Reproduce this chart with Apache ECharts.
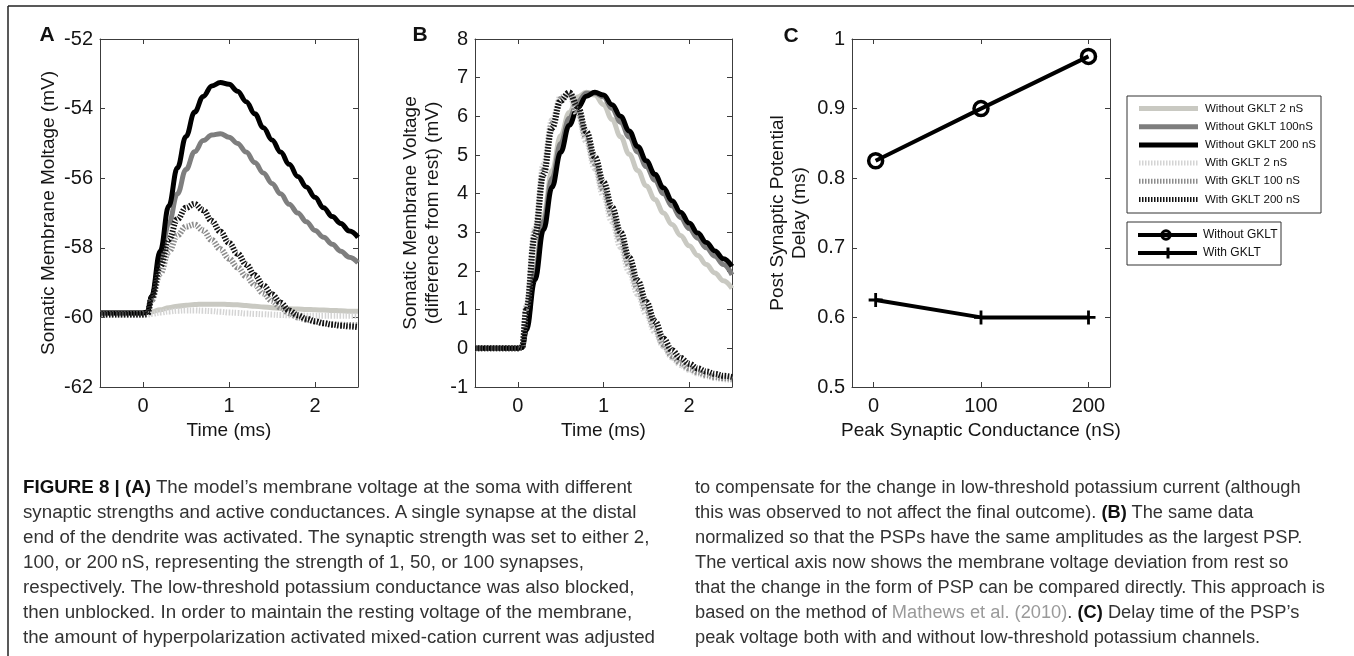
<!DOCTYPE html>
<html><head><meta charset="utf-8">
<script src="https://cdn.jsdelivr.net/npm/echarts@6/dist/echarts.min.js"></script>
<style>
html,body{margin:0;padding:0;background:#fff;}
#wrap{position:relative;width:1354px;height:656px;overflow:hidden;background:#fff;}
#chart{position:absolute;left:0;top:0;width:1354px;height:656px;}
.cap{position:absolute;white-space:nowrap;font-family:"Liberation Sans",Arial,sans-serif;font-size:18px;color:#333;line-height:25px;height:25px;transform-origin:0 50%;}
.cap b{color:#111;}
.cap .ref{color:#9a9a9a;}
</style></head>
<body><div id="wrap"><div id="chart"></div></div>
<script>
// ---------- data ----------
const T = [-0.5,0,0.05,0.1,0.2,0.3,0.4,0.5,0.6,0.7,0.8,0.9,1.0,1.1,1.2,1.3,1.4,1.5,1.6,1.7,1.8,1.9,2.0,2.1,2.2,2.3,2.4,2.5];
const seriesNames = ['Without GKLT 2 nS','Without GKLT 100nS','Without GKLT 200 nS','With GKLT 2 nS','With GKLT 100 nS','With GKLT 200 nS'];
// Panel A: somatic membrane voltage (mV)
const A_woGKLT_2   = [-59.87,-59.87,-59.86,-59.84,-59.78,-59.72,-59.68,-59.65,-59.63,-59.62,-59.62,-59.62,-59.63,-59.64,-59.66,-59.68,-59.70,-59.72,-59.74,-59.75,-59.76,-59.77,-59.78,-59.79,-59.80,-59.81,-59.82,-59.82];
const A_woGKLT_100 = [-59.87,-59.87,-59.85,-59.44,-58.35,-57.3,-56.45,-55.75,-55.24,-54.92,-54.76,-54.72,-54.82,-55.0,-55.25,-55.55,-55.85,-56.15,-56.45,-56.75,-57.0,-57.25,-57.5,-57.7,-57.9,-58.1,-58.27,-58.43];
const A_woGKLT_200 = [-59.87,-59.87,-59.85,-59.4,-58.1,-56.8,-55.7,-54.8,-54.1,-53.65,-53.35,-53.25,-53.3,-53.5,-53.8,-54.15,-54.55,-54.9,-55.25,-55.6,-55.95,-56.25,-56.55,-56.85,-57.1,-57.3,-57.52,-57.7];
const A_wGKLT_2    = [-59.92,-59.92,-59.92,-59.9,-59.86,-59.83,-59.81,-59.8,-59.8,-59.81,-59.82,-59.84,-59.86,-59.87,-59.89,-59.9,-59.91,-59.92,-59.93,-59.94,-59.94,-59.95,-59.95,-59.95,-59.95,-59.95,-59.95,-59.95];
const A_wGKLT_100  = [-59.92,-59.92,-59.91,-59.51,-58.74,-58.11,-57.64,-57.39,-57.33,-57.5,-57.78,-58.04,-58.31,-58.56,-58.82,-59.07,-59.31,-59.53,-59.72,-59.88,-60.0,-60.07,-60.12,-60.16,-60.19,-60.21,-60.22,-60.23];
const A_wGKLT_200  = [-59.92,-59.92,-59.91,-59.44,-58.53,-57.76,-57.18,-56.85,-56.74,-56.92,-57.23,-57.54,-57.86,-58.17,-58.48,-58.79,-59.08,-59.34,-59.58,-59.8,-59.94,-60.04,-60.11,-60.17,-60.21,-60.24,-60.26,-60.28];
// Panel B: normalized deviation from rest (mV)
const B_woGKLT_2   = [0,0,0.02,0.6,2.05,3.45,4.6,5.5,6.1,6.5,6.62,6.55,6.3,5.92,5.47,5.02,4.6,4.2,3.85,3.5,3.2,2.92,2.65,2.4,2.17,1.95,1.75,1.55];
const B_woGKLT_100 = [0,0,0.02,0.55,1.95,3.3,4.4,5.3,5.95,6.38,6.6,6.6,6.5,6.2,5.85,5.47,5.08,4.7,4.35,4.0,3.68,3.38,3.1,2.85,2.6,2.38,2.17,1.9];
const B_woGKLT_200 = [0,0,0.02,0.47,1.77,3.07,4.17,5.07,5.77,6.22,6.52,6.62,6.55,6.3,6.0,5.62,5.22,4.85,4.5,4.15,3.82,3.52,3.24,2.98,2.74,2.52,2.32,2.12];
const B_wGKLT_2    = [0,0,0.03,1.1,3.1,4.75,5.9,6.5,6.55,6.05,5.35,4.65,3.95,3.28,2.62,1.98,1.4,0.88,0.42,0.05,-0.24,-0.43,-0.56,-0.65,-0.72,-0.77,-0.8,-0.82];
const B_wGKLT_100  = [0,0,0.03,1.05,3.0,4.6,5.8,6.45,6.6,6.15,5.45,4.78,4.1,3.45,2.8,2.15,1.55,1.0,0.52,0.1,-0.2,-0.38,-0.52,-0.62,-0.69,-0.74,-0.77,-0.79];
const B_wGKLT_200  = [0,0,0.02,1.0,2.9,4.5,5.7,6.4,6.62,6.25,5.6,4.95,4.3,3.65,3.0,2.35,1.75,1.2,0.7,0.25,-0.05,-0.25,-0.4,-0.52,-0.6,-0.66,-0.71,-0.74];
// Panel C: PSP delay (ms)
const C_conductance = [2, 100, 200];
const C_without = [0.825, 0.9, 0.975];
const C_with    = [0.625, 0.6, 0.6];
const C_names = ['Without GKLT','With GKLT'];
// tick labels
const timeTicks = [0, 1, 2];
const condTicks = [0, 100, 200];

const captionLeft = [
 '<b>FIGURE 8 | (A)</b> The model\u2019s membrane voltage at the soma with different',
 'synaptic strengths and active conductances. A single synapse at the distal',
 'end of the dendrite was activated. The synaptic strength was set to either 2,',
 '100, or 200\u2009nS, representing the strength of 1, 50, or 100 synapses,',
 'respectively. The low-threshold potassium conductance was also blocked,',
 'then unblocked. In order to maintain the resting voltage of the membrane,',
 'the amount of hyperpolarization activated mixed-cation current was adjusted'
];
const captionRight = [
 'to compensate for the change in low-threshold potassium current (although',
 'this was observed to not affect the final outcome). <b>(B)</b> The same data',
 'normalized so that the PSPs have the same amplitudes as the largest PSP.',
 'The vertical axis now shows the membrane voltage deviation from rest so',
 'that the change in the form of PSP can be compared directly. This approach is',
 'based on the method of <span class="ref">Mathews et al. (2010)</span>. <b>(C)</b> Delay time of the PSP\u2019s',
 'peak voltage both with and without low-threshold potassium channels.'
];

// ---------- styles ----------
const F = '"Liberation Sans", Arial, Helvetica, sans-serif';
const styles = [
 {color:'#c9c9c2', dash:'solid', width:5},
 {color:'#7e7e7e', dash:'solid', width:5},
 {color:'#000000', dash:'solid', width:5},
 {color:'#d4d4d4', dash:[1.5,1.5], width:6},
 {color:'#8c8c8c', dash:[1.5,1.5], width:6},
 {color:'#111111', dash:[1.5,1.5], width:6}
];
const axisColor = '#3c3c3c';
const txtColor = '#151515';

function xPair(gi, min, max, ticks, name) {
  return [
    {gridIndex:gi, type:'value', position:'bottom', min:min, max:max,
     name:name, nameLocation:'middle', nameGap:31,
     nameTextStyle:{fontSize:19, color:txtColor, fontFamily:F},
     axisLine:{show:true, onZero:false, lineStyle:{color:axisColor, width:1}},
     axisTick:{show:true, inside:true, length:5, customValues:ticks, lineStyle:{color:axisColor}},
     axisLabel:{show:true, customValues:ticks, fontSize:20, color:txtColor, margin:9, fontFamily:F},
     splitLine:{show:false}},
    {gridIndex:gi, type:'value', position:'top', min:min, max:max,
     axisLine:{show:true, onZero:false, lineStyle:{color:axisColor, width:1}},
     axisTick:{show:true, inside:true, length:5, customValues:ticks, lineStyle:{color:axisColor}},
     axisLabel:{show:false}, splitLine:{show:false}}
  ];
}
function yPair(gi, min, max, interval, name, gap, fmt) {
  const lab = {show:true, fontSize:20, color:txtColor, margin:7, fontFamily:F};
  if (fmt) lab.formatter = fmt;
  return [
    {gridIndex:gi, type:'value', position:'left', min:min, max:max, interval:interval,
     name:name, nameLocation:'middle', nameGap:gap, nameRotate:90,
     nameTextStyle:{fontSize:19, color:txtColor, fontFamily:F, lineHeight:22},
     axisLine:{show:true, onZero:false, lineStyle:{color:axisColor, width:1}},
     axisTick:{show:true, inside:true, length:5, lineStyle:{color:axisColor}},
     axisLabel:lab, splitLine:{show:false}},
    {gridIndex:gi, type:'value', position:'right', min:min, max:max, interval:interval,
     axisLine:{show:true, onZero:false, lineStyle:{color:axisColor, width:1}},
     axisTick:{show:true, inside:true, length:5, lineStyle:{color:axisColor}},
     axisLabel:{show:false}, splitLine:{show:false}}
  ];
}

const xAxes = [].concat(
  xPair(0, -0.5, 2.5, timeTicks, 'Time (ms)'),
  xPair(1, -0.5, 2.5, timeTicks, 'Time (ms)'),
  xPair(2, -20, 220, condTicks, 'Peak Synaptic Conductance (nS)')
);
const yAxes = [].concat(
  yPair(0, -62, -52, 2, 'Somatic Membrane Moltage (mV)', 40),
  yPair(1, -1, 8, 1, 'Somatic Membrane Voltage\n(difference from rest) (mV)', 31),
  yPair(2, 0.5, 1, 0.1, 'Post Synaptic Potential\nDelay (ms)', 41, v => String(+(+v).toFixed(1)))
);

const A_sets = [A_woGKLT_2, A_woGKLT_100, A_woGKLT_200, A_wGKLT_2, A_wGKLT_100, A_wGKLT_200];
const B_sets = [B_woGKLT_2, B_woGKLT_100, B_woGKLT_200, B_wGKLT_2, B_wGKLT_100, B_wGKLT_200];
const series = [];
function addPanel(sets, axisIdx) {
  sets.forEach((vals, i) => {
    const st = styles[i];
    series.push({
      type:'line', name:seriesNames[i], xAxisIndex:axisIdx, yAxisIndex:axisIdx,
      data:T.map((t, k) => [t, vals[k]]),
      showSymbol:false, symbol:'none', smooth:0.4, smoothMonotone:'x',
      lineStyle:{color:st.color, width:st.width, type:st.dash, cap:'butt', join:'round'},
      itemStyle:{color:st.color}, silent:true, animation:false, z:2 + i
    });
  });
}
addPanel(A_sets, 0);
addPanel(B_sets, 2);
series.push({
  type:'line', name:C_names[0], xAxisIndex:4, yAxisIndex:4,
  data:C_conductance.map((c, k) => [c, C_without[k]]),
  symbol:'circle', symbolSize:14, showSymbol:true,
  lineStyle:{color:'#000', width:4},
  itemStyle:{color:'rgba(255,255,255,0)', borderColor:'#000', borderWidth:3.5},
  animation:false, silent:true, z:5
});
const plusPath = 'path://M4,0h2v4h4v2h-4v4h-2v-4h-4v-2h4z';
series.push({
  type:'line', name:C_names[1], xAxisIndex:4, yAxisIndex:4,
  data:C_conductance.map((c, k) => [c, C_with[k]]),
  symbol:plusPath, symbolSize:14, showSymbol:true,
  lineStyle:{color:'#000', width:4},
  itemStyle:{color:'#000'},
  animation:false, silent:true, z:5
});

// ---------- frame, panel letters and legend boxes ----------
const graphic = [];
graphic.push({type:'line', shape:{x1:8, y1:6, x2:1354, y2:6}, style:{stroke:'#222', lineWidth:1.5}, silent:true});
graphic.push({type:'line', shape:{x1:8, y1:6, x2:8, y2:656}, style:{stroke:'#222', lineWidth:1.5}, silent:true});
[['A',47,35],['B',420,35],['C',791,36]].forEach(p => {
  graphic.push({type:'text', x:p[1], y:p[2], style:{text:p[0], fill:'#111', font:'bold 21px ' + F, align:'center', verticalAlign:'middle'}, silent:true});
});
graphic.push({type:'rect', shape:{x:1127, y:96, width:194, height:117}, style:{fill:'#fff', stroke:'#333', lineWidth:1}, z:10, silent:true});
seriesNames.forEach((nm, i) => {
  const cy = 108.5 + 18.2 * i;
  const st = styles[i];
  graphic.push({type:'line', shape:{x1:1139, y1:cy, x2:1198, y2:cy},
    style:{stroke:st.color, lineWidth:5, lineDash:st.dash === 'solid' ? null : [1.5,1.5], lineCap:'butt'}, z:11, silent:true});
  graphic.push({type:'text', x:1205, y:cy, style:{text:nm, fill:'#111', font:'11.5px ' + F, align:'left', verticalAlign:'middle'}, z:11, silent:true});
});
graphic.push({type:'rect', shape:{x:1127, y:222, width:154, height:43}, style:{fill:'#fff', stroke:'#333', lineWidth:1}, z:10, silent:true});
C_names.forEach((nm, i) => {
  const cy = 235 + 18 * i;
  graphic.push({type:'line', shape:{x1:1138, y1:cy, x2:1197, y2:cy}, style:{stroke:'#000', lineWidth:4}, z:11, silent:true});
  if (i === 0) {
    graphic.push({type:'circle', shape:{cx:1166, cy:cy, r:4.2}, style:{fill:'none', stroke:'#000', lineWidth:3}, z:12, silent:true});
  } else {
    graphic.push({type:'rect', shape:{x:1166.5, y:cy - 5.5, width:3, height:11}, style:{fill:'#000'}, z:12, silent:true});
    graphic.push({type:'rect', shape:{x:1162.5, y:cy - 1.5, width:11, height:3}, style:{fill:'#000'}, z:12, silent:true});
  }
  graphic.push({type:'text', x:1203, y:cy, style:{text:nm, fill:'#111', font:'12px ' + F, align:'left', verticalAlign:'middle'}, z:11, silent:true});
});

const option = {
  backgroundColor:'#ffffff',
  animation:false,
  textStyle:{fontFamily:F},
  grid:[
    {left:100, top:39, width:258, height:348, containLabel:false},
    {left:475, top:39, width:257, height:348, containLabel:false},
    {left:852, top:39, width:258, height:348, containLabel:false}
  ],
  xAxis:xAxes,
  yAxis:yAxes,
  series:series,
  graphic:graphic
};
const chart = echarts.init(document.getElementById('chart'), null, {renderer:'canvas'});
chart.setOption(option);

// ---------- caption ----------
const wrap = document.getElementById('wrap');
function placeCaption(lines, left, target) {
  const els = lines.map((html, i) => {
    const d = document.createElement('div');
    d.className = 'cap';
    d.innerHTML = html;
    d.style.left = left + 'px';
    d.style.top = (487 - 12.5 + 25 * i) + 'px';
    wrap.appendChild(d);
    return d;
  });
  let maxW = 0;
  els.forEach(e => { maxW = Math.max(maxW, e.getBoundingClientRect().width); });
  const s = maxW > 0 ? target / maxW : 1;
  els.forEach(e => { e.style.transform = 'scaleX(' + s.toFixed(4) + ')'; });
}
placeCaption(captionLeft, 23, 632);
placeCaption(captionRight, 695, 630);
</script>
</body></html>
